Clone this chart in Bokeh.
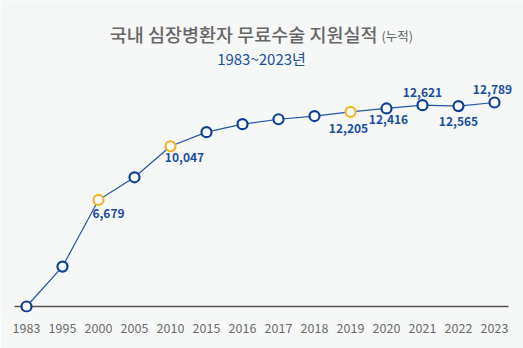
from bokeh.plotting import figure
from bokeh.models import ColumnDataSource, FixedTicker, Label, Range1d
from bokeh.embed import file_html
from bokeh.resources import INLINE
from bokeh.core.properties import value

# ---- data ----
years = ["1983", "1995", "2000", "2005", "2010", "2015", "2016",
         "2017", "2018", "2019", "2020", "2021", "2022", "2023"]
cumulative = [0, 2500, 6679, 8100, 10047, 10930, 11430,
              11740, 11940, 12205, 12416, 12621, 12565, 12789]
highlight_years = ["2000", "2010", "2019"]
labeled_years = ["2000", "2010", "2019", "2020", "2021", "2022", "2023"]

title_main = "국내 심장병환자 무료수술 지원실적"
title_note = "(누적)"
subtitle = "1983~2023년"

# ---- styles / layout ----
W, H = 523, 348
BG = "#f6f7f7"
FONT = "Noto Sans CJK KR"
FONT_MED = "Noto Sans CJK KR Medium"
BLUE_DARK = "#0e3f97"
BLUE_LINE = "#2456a6"
BLUE_TEXT = "#1b4ea0"
ORANGE = "#f4b324"
GRAY_TITLE = "#666666"
GRAY_TICK = "#6a6a6a"

b_bottom = 36
frame_h = H - b_bottom
cat_px = 36.0
first_px = 26.0
zero_canvas_y = 306.0
top_canvas_y = 102.0
base_left_px, base_right_px = 14.0, 508.0

# label offsets (screen px) for labeled points, same order as labeled_years
lab_dx = [10, 14, -2, 2, 0, 0, -2]
lab_dy = [14, 11, 17, 11, -13, 15, -13]

idx = list(range(len(years)))
x_start = -first_px / cat_px
x_end = x_start + W / cat_px

k = (zero_canvas_y - top_canvas_y) / max(cumulative)
y_start = -(frame_h - zero_canvas_y) / k
y_end = zero_canvas_y / k

p = figure(width=W, height=H, output_backend="svg", toolbar_location=None,
           x_range=Range1d(x_start, x_end), y_range=Range1d(y_start, y_end),
           y_axis_location=None, min_border_left=0, min_border_right=0,
           min_border_top=0, min_border_bottom=b_bottom)
p.background_fill_color = BG
p.border_fill_color = BG
p.outline_line_color = None
p.xgrid.visible = False
p.ygrid.visible = False

ax = p.xaxis[0]
ax.ticker = FixedTicker(ticks=idx)
ax.major_label_overrides = {i: y for i, y in enumerate(years)}
ax.axis_line_color = None
ax.major_tick_line_color = None
ax.minor_tick_line_color = None
ax.major_label_standoff = 4
ax.major_label_text_font = FONT
ax.major_label_text_font_size = "12.5px"
ax.major_label_text_color = GRAY_TICK

# baseline (x axis line) spanning the chart area
bx0 = x_start + base_left_px / cat_px
bx1 = x_start + base_right_px / cat_px
p.segment(x0=[bx0], y0=[0], x1=[bx1], y1=[0], line_color="#5a5252", line_width=1.6)

p.line(idx, cumulative, line_color=BLUE_LINE, line_width=1.2)

colors = [ORANGE if y in highlight_years else BLUE_DARK for y in years]
src = ColumnDataSource(dict(x=idx, y=cumulative, c=colors))
p.scatter("x", "y", source=src, marker="circle", size=10, fill_color="white",
          line_color="c", line_width=2.2)

lx = [years.index(y) for y in labeled_years]
ly = [cumulative[i] for i in lx]
lt = [f"{v:,}" for v in ly]
lsrc = ColumnDataSource(dict(x=lx, y=ly, t=lt, dx=lab_dx, dy=lab_dy))
p.text("x", "y", text="t", source=lsrc, x_offset="dx", y_offset="dy",
       text_align="center", text_baseline="middle", text_font=value(FONT),
       text_font_style="bold", text_font_size="12px", text_color=BLUE_TEXT)

# titles (screen units relative to frame: x from left, y from bottom)
p.add_layout(Label(x=377, y=frame_h - 33, x_units="screen", y_units="screen",
                   text=title_main, text_align="right", text_baseline="middle",
                   text_font=FONT_MED, text_font_size="18.5px", text_color=GRAY_TITLE))
p.add_layout(Label(x=381, y=frame_h - 35, x_units="screen", y_units="screen",
                   text=title_note, text_align="left", text_baseline="middle",
                   text_font=FONT, text_font_size="12.5px", text_color=GRAY_TITLE))
p.add_layout(Label(x=261, y=frame_h - 58, x_units="screen", y_units="screen",
                   text=subtitle, text_align="center", text_baseline="middle",
                   text_font=FONT, text_font_size="15px", text_color=BLUE_TEXT))

open("out.html", "w").write(file_html(p, INLINE))
